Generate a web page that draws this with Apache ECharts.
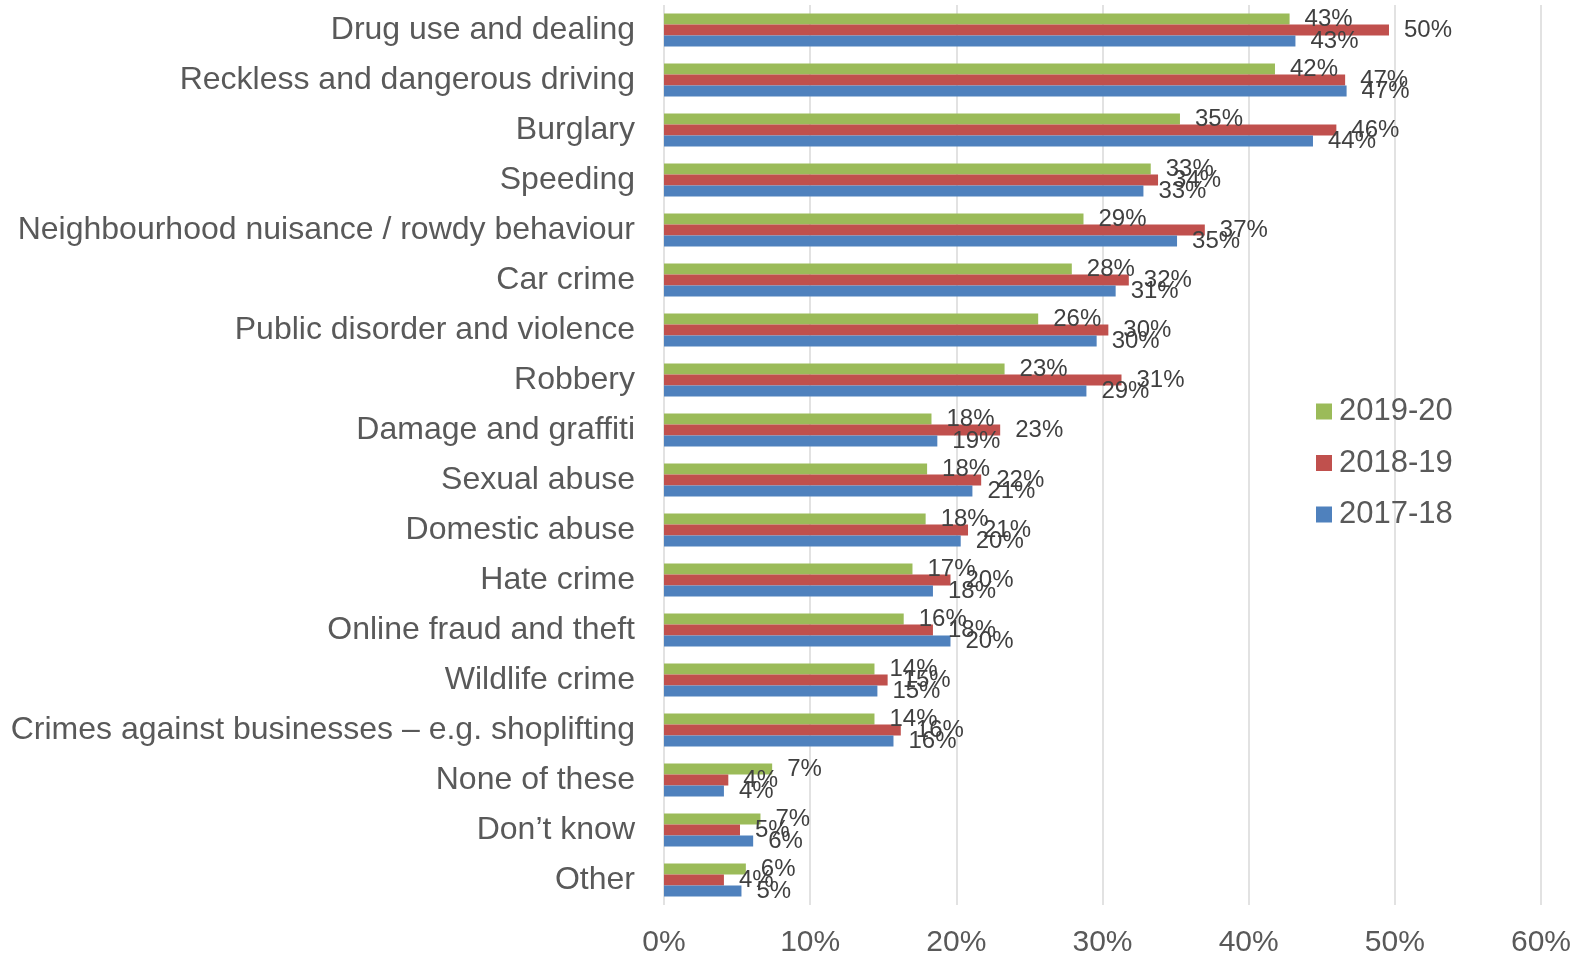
<!DOCTYPE html>
<html>
<head>
<meta charset="utf-8">
<script src="https://cdn.jsdelivr.net/npm/echarts@6/dist/echarts.min.js"></script>
<style>
html,body{margin:0;padding:0;background:#fff;}
#chart{width:1584px;height:958px;}
</style>
</head>
<body>
<div id="chart"></div>
<script>
const categories = [
  "Drug use and dealing",
  "Reckless and dangerous driving",
  "Burglary",
  "Speeding",
  "Neighbourhood nuisance / rowdy behaviour",
  "Car crime",
  "Public disorder and violence",
  "Robbery",
  "Damage and graffiti",
  "Sexual abuse",
  "Domestic abuse",
  "Hate crime",
  "Online fraud and theft",
  "Wildlife crime",
  "Crimes against businesses \u2013 e.g. shoplifting",
  "None of these",
  "Don\u2019t know",
  "Other"
];
const s2019_20 = [42.8, 41.8, 35.3, 33.3, 28.7, 27.9, 25.6, 23.3, 18.3, 18.0, 17.9, 17.0, 16.4, 14.4, 14.4, 7.4, 6.6, 5.6];
const s2018_19 = [49.6, 46.6, 46.0, 33.8, 37.0, 31.8, 30.4, 31.3, 23.0, 21.7, 20.8, 19.6, 18.4, 15.3, 16.2, 4.4, 5.2, 4.1];
const s2017_18 = [43.2, 46.7, 44.4, 32.8, 35.1, 30.9, 29.6, 28.9, 18.7, 21.1, 20.3, 18.4, 19.6, 14.6, 15.7, 4.1, 6.1, 5.3];
const seriesNames = ["2019-20", "2018-19", "2017-18"];
const xTicks = [0, 10, 20, 30, 40, 50, 60];

const colors = ["#9BBB59", "#C0504D", "#4F81BD"];
const dataSets = [s2019_20, s2018_19, s2017_18];

const chart = echarts.init(document.getElementById('chart'), null, {renderer: 'canvas'});
const labelFont = 'Liberation Sans, Arial, sans-serif';
chart.setOption({
  animation: false,
  textStyle: {fontFamily: labelFont},
  grid: {left: 664, right: 43, top: 5, bottom: 51, containLabel: false},
  legend: {
    orient: 'vertical',
    left: 1311,
    top: 391,
    itemWidth: 16,
    itemHeight: 16,
    itemGap: 20.5,
    icon: 'rect',
    data: seriesNames,
    textStyle: {fontSize: 31, color: '#595959', fontFamily: labelFont, padding: [0, 0, 0, 2]}
  },
  xAxis: {
    type: 'value',
    min: xTicks[0],
    max: xTicks[xTicks.length - 1],
    interval: 10,
    axisLine: {show: false},
    axisTick: {show: false},
    splitLine: {show: true, lineStyle: {color: '#d9d9d9', width: 1.5}},
    axisLabel: {
      fontSize: 30,
      color: '#595959',
      margin: 23,
      formatter: v => v + '%'
    }
  },
  yAxis: {
    type: 'category',
    inverse: true,
    data: categories,
    axisLine: {show: false},
    axisTick: {show: false},
    axisLabel: {fontSize: 32, color: '#595959', margin: 29, interval: 0}
  },
  series: seriesNames.map((name, i) => ({
    name: name,
    type: 'bar',
    data: dataSets[i],
    barWidth: 11,
    barGap: '0%',
    barCategoryGap: '34%',
    itemStyle: {color: colors[i]},
    label: {
      show: true,
      position: 'right',
      distance: 15,
      fontSize: 24,
      color: '#404040',
      formatter: p => Math.round(p.value) + '%'
    }
  }))
});
</script>
</body>
</html>
